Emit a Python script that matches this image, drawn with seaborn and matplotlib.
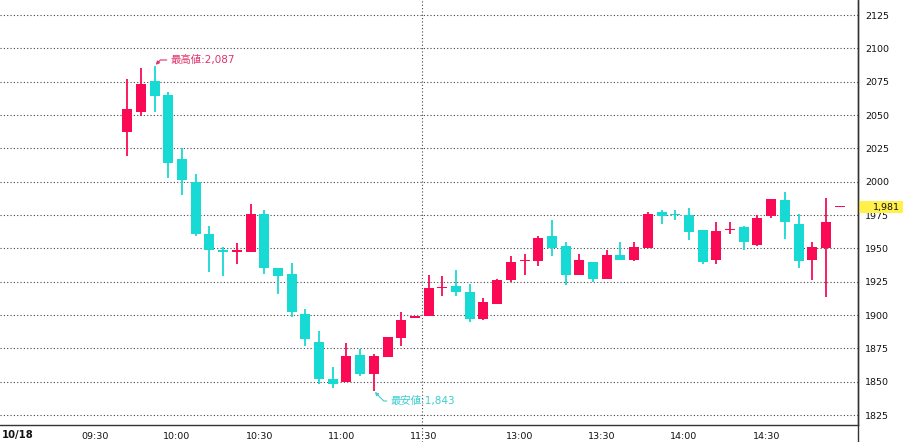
import matplotlib
matplotlib.use("Agg")
import matplotlib.pyplot as plt
import seaborn as sns
import numpy as np
import pandas as pd
from matplotlib.patches import Rectangle
from matplotlib.lines import Line2D

# ---- data (5-minute candles, 10/18) ----
opens = [2037.5, 2052, 2075.5, 2065, 2017, 1999.5, 1961, 1949, 1947, 1947.5,
         1976, 1935, 1931, 1901, 1879.5, 1852, 1849.5, 1870, 1856, 1868.5,
         1883, 1897.8, 1899.5, 1920, 1922, 1917.5, 1897, 1908.5, 1926.5, 1940.5,
         1940.5, 1959.5, 1951.5, 1930, 1940, 1927, 1945, 1941.5, 1950, 1977,
         1975.3, 1975, 1963.5, 1941, 1963.5, 1966, 1952.5, 1974, 1986.5, 1968,
         1941.5, 1950.5, 1980.8]
highs = [2077, 2085, 2087, 2067, 2025, 2005.5, 1967, 1951, 1954, 1983,
         1979, 1935, 1939, 1904.5, 1888, 1861, 1879, 1874.5, 1871, 1883.5,
         1902.5, 1898.2, 1930, 1929.5, 1934, 1923, 1912.5, 1927, 1944.5, 1946,
         1959.5, 1971.5, 1954.5, 1946, 1940, 1949, 1954.5, 1955, 1977, 1978.5,
         1979, 1980.5, 1963.5, 1969.5, 1969.5, 1966.5, 1975, 1987, 1992, 1976,
         1954.5, 1987.5, 1981.2]
lows = [2019.5, 2049.5, 2052.5, 2002.5, 1990, 1959.5, 1932.5, 1929.5, 1938, 1947.5,
        1930.5, 1915.5, 1898.5, 1876.5, 1848, 1845, 1849.5, 1854.5, 1843, 1868.5,
        1877, 1897.8, 1899.5, 1914.5, 1914, 1894.5, 1896, 1908.5, 1924.5, 1930,
        1936.5, 1944, 1922.5, 1930, 1924.5, 1927, 1941, 1940.5, 1950, 1968,
        1971, 1956, 1938.5, 1938.5, 1960.5, 1948.5, 1951.5, 1972.5, 1957, 1935.5,
        1926, 1913.5, 1980.8]
closes = [2054.5, 2073, 2064.5, 2014, 2001, 1960.5, 1948.5, 1947, 1949, 1976,
          1935.5, 1929.5, 1902.5, 1882, 1852, 1848, 1869, 1856, 1869, 1883.5,
          1896, 1898.2, 1920.5, 1921, 1917.5, 1897, 1909.5, 1926, 1940, 1941.5,
          1958, 1950.5, 1930, 1941.5, 1927, 1945, 1941, 1951, 1976, 1974.5,
          1974.8, 1962.5, 1939.5, 1963, 1964, 1954.5, 1973, 1987, 1969.5, 1940.5,
          1951, 1970, 1981.2]

tick_idx = [-3, 3, 9, 15, 21, 28, 34, 40, 46, 52]
tick_labels = ["09:30", "10:00", "10:30", "11:00", "11:30",
               "13:00", "13:30", "14:00", "14:30", ""]
y_ticks = [1825, 1850, 1875, 1900, 1925, 1950, 1975, 2000, 2025, 2050, 2075, 2100, 2125]
day_label = "10/18"
high_label = "最高値:2,087"
high_idx, high_val = 2, 2087
low_label = "最安値:1,843"
low_idx, low_val = 18, 1843
last_price, last_label = 1981, "1,981"
session_break = 21.5

df = pd.DataFrame({"open": opens, "high": highs, "low": lows, "close": closes})
df["idx"] = np.arange(len(df))

# ---- style ----
sns.set_style("white")
plt.rcParams["font.family"] = ["DejaVu Sans", "Noto Sans CJK JP"]

UP = "#FA0A55"
DOWN = "#18DAD4"
UP_TXT = "#E0336A"
DOWN_TXT = "#3CCFCF"
GRID = "#444444"
AXC = "#333333"

W, H = 904, 442
fig = plt.figure(figsize=(W / 100, H / 100), dpi=100)
ax = fig.add_axes([0, 17 / H, 858 / W, 425 / H])

colors = np.where(df["close"] >= df["open"], UP, DOWN)
bottoms = np.minimum(df["open"], df["close"])
heights = np.maximum((df["close"] - df["open"]).abs(), 1.1)

ax.vlines(df["idx"], df["low"], df["high"], colors=colors, lw=1.3, zorder=2)
ax.bar(df["idx"], heights, bottom=bottoms, width=0.73, color=colors,
       linewidth=0, zorder=3)

ax.set_xlim(-9.29, 53.34)
ax.set_ylim(1817.5, 2136.3)

# grid
ax.set_yticks(y_ticks)
ax.set_yticklabels([str(v) for v in y_ticks])
ax.yaxis.grid(True, linestyle=(0, (1, 2)), color=GRID, lw=0.8)
ax.xaxis.grid(False)
ax.yaxis.tick_right()
ax.tick_params(axis="y", length=0, pad=5, labelsize=6.8, colors="#111111")

ax.set_xticks([i - 0.365 for i in tick_idx])
ax.set_xticklabels(tick_labels)
for lab in ax.get_xticklabels():
    lab.set_ha("left")
ax.tick_params(axis="x", length=3, width=0.8, direction="out", color=AXC,
               pad=2, labelsize=6.8, labelcolor="#111111")

for s in ["left", "top"]:
    ax.spines[s].set_visible(False)
for s in ["right", "bottom"]:
    ax.spines[s].set_color(AXC)
    ax.spines[s].set_linewidth(1.0)

# right spine extends through the whole figure
fig.add_artist(Line2D([858 / W, 858 / W], [0, 1], transform=fig.transFigure,
                      color=AXC, lw=1.0))

# session break
ax.axvline(session_break, ymin=-0.04, ymax=1, clip_on=False, color=GRID,
           linestyle=(0, (1, 2)), lw=0.8, zorder=1)

# high / low annotations
ax.annotate(high_label, xy=(high_idx, high_val), xytext=(3.12, 2091.3),
            textcoords="data", ha="left", va="center", color=UP_TXT,
            fontsize=7.5, zorder=6,
            arrowprops=dict(arrowstyle="-|>", color=UP_TXT, lw=0.8,
                            shrinkA=0, shrinkB=1, mutation_scale=5,
                            connectionstyle="angle,angleA=0,angleB=45,rad=0"))
ax.annotate(low_label, xy=(low_idx, low_val), xytext=(19.18, 1835.5),
            textcoords="data", ha="left", va="center", color=DOWN_TXT,
            fontsize=7.5, zorder=6,
            arrowprops=dict(arrowstyle="-|>", color=DOWN_TXT, lw=0.8,
                            shrinkA=0, shrinkB=1, mutation_scale=5,
                            connectionstyle="angle,angleA=0,angleB=-45,rad=0"))

# last price tag
yt = ax.get_yaxis_transform()
ax.add_patch(Rectangle((1.0 + 1.5 / 858, last_price - 4.8), 46 / 858, 9.6,
                       transform=yt, facecolor="#FFF04A", edgecolor="none",
                       clip_on=False, zorder=10))
ax.text(1.0 + 42 / 858, last_price, last_label, transform=yt, ha="right",
        va="center", fontsize=6.8, color="#111111", zorder=11, clip_on=False)

# date label
fig.text(2 / W, (H - 435) / H, day_label, ha="left", va="center",
         fontsize=7.2, fontweight="bold", color="#111111")

fig.savefig("out.png", dpi=100)
